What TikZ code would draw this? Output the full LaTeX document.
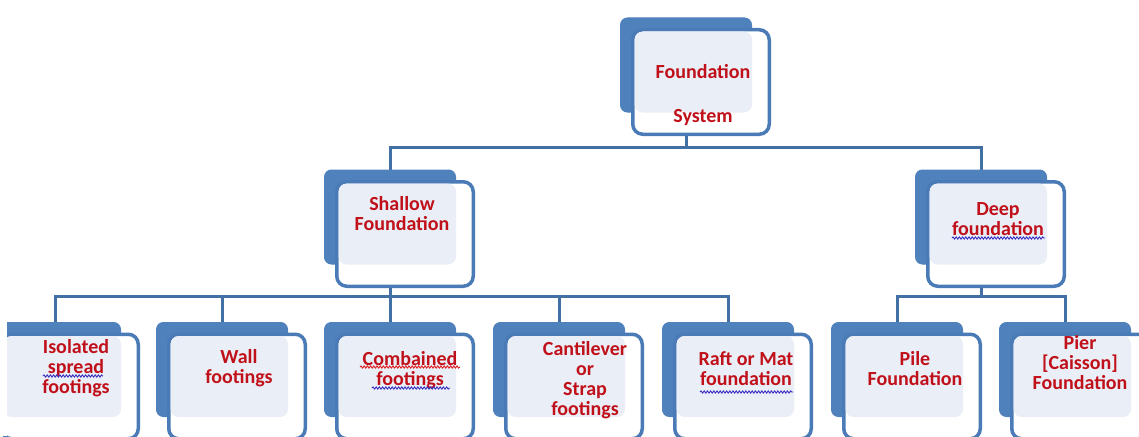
\documentclass[tikz,border=0pt]{standalone}
\usepackage{fontspec}
\setmainfont{Carlito}
\usetikzlibrary{calc,backgrounds,decorations.pathmorphing}
\definecolor{boxblue}{HTML}{4F81BD}
\definecolor{edgeblue}{HTML}{4A7BB7}
\definecolor{lineblue}{HTML}{4270A5}
\definecolor{innerfill}{HTML}{EAEEF6}
\definecolor{txtred}{HTML}{C0101A}
\definecolor{wavyblue}{HTML}{3A2FC0}
\definecolor{wavyred}{HTML}{E02020}
\tikzset{
  backbox/.style={rectangle, fill=boxblue, draw=boxblue, line width=1pt, rounded corners=7pt,
    minimum width=131pt, minimum height=94pt, inner sep=0pt},
  frontbox/.style={rectangle, fill=white, draw=edgeblue, line width=3.5pt, rounded corners=10pt,
    minimum width=136.5pt, minimum height=104.5pt, inner sep=0pt},
  innerpart/.style={fill=innerfill, rounded corners=8pt},
  conn/.style={draw=lineblue, line width=3pt},
  lbl/.style={text=txtred, font=\fontsize{20}{20}\selectfont\bfseries, align=center, inner sep=0pt, anchor=north},
  wavy/.style={line width=0.9pt, decorate, decoration={snake, amplitude=1.1pt, segment length=3.2pt}}
}
\newcommand{\mkbox}[3]{%
  \node[backbox] (#1b) at (#2,#3) {};
  \node[frontbox] (#1f) at ($(#1b.center)+(15,17)$) {};
  \fill[innerpart] ($(#1f.north west)+(3.6,3.6)$) rectangle (#1b.south east);
}
\begin{document}
\begin{tikzpicture}[x=1pt,y=-1pt]
\useasboundingbox (0,0) rectangle (1139,436);
\clip (0,0) rectangle (1139,436);
% boxes
\mkbox{top}{686}{65}
\mkbox{sh}{390}{217}
\mkbox{dp}{981}{217}
\mkbox{iso}{55}{369.5}
\mkbox{wall}{222}{369.5}
\mkbox{comb}{390}{369.5}
\mkbox{cant}{559}{369.5}
\mkbox{raft}{728}{369.5}
\mkbox{pile}{897}{369.5}
\mkbox{pier}{1065}{369.5}
% white margin strip at the left edge, as in the reference
\fill[white] (0,300) rectangle (7,436);
% labels
\node[lbl] (topt) at (703,64) {Foundation\\[24pt]System};
\node[lbl] (sht) at (402,196) {Shallow\\Foundation};
\node[lbl] (dpt) at (998,202) {Deep\\foundation};
\node[lbl] (isot) at (76,339) {Isolated\\spread\\footings};
\node[lbl] (wallt) at (239,349) {Wall\\footings};
\node[lbl] (combt) at (410,351) {Combained\\footings};
\node[lbl] (cantt) at (585,341) {Cantilever\\or\\Strap\\footings};
\node[lbl] (raftt) at (746,351) {Raft or Mat\\foundation};
\node[lbl] (pilet) at (915,351) {Pile\\Foundation};
\node[lbl] (piert) at (1080,335) {Pier\\{[Caisson]}\\Foundation};
% spell-check underlines
\draw[wavy, wavyblue] (43,376) -- (103,376);
\draw[wavy, wavyred] (360,367) -- (460,367);
\draw[wavy, wavyblue] (372,388) -- (450,388);
\draw[wavy, wavyblue] (952,238) -- (1045,238);
\draw[wavy, wavyblue] (700,392) -- (793,392);
% connectors
\coordinate (bus1) at ($(topb.south)+(0,35)$);
\coordinate (bus2) at ($(shb.south)+(0,31.5)$);
\coordinate (bus3) at ($(dpb.south)+(0,32)$);
\begin{pgfonlayer}{background}
  \fill[white] (0,0) rectangle (1139,436);
  \draw[conn] (topb.south) -- (bus1);
  \draw[conn] (bus1) -| (shb.north);
  \draw[conn] (bus1) -| (dpb.north);
  \draw[conn] (shb.south) -- (bus2);
  \draw[conn] (bus2) -| (isob.north);
  \draw[conn] (bus2) -| (wallb.north);
  \draw[conn] (bus2) -| (combb.north);
  \draw[conn] (bus2) -| (cantb.north);
  \draw[conn] (bus2) -| (raftb.north);
  \draw[conn] (dpb.south) -- (bus3);
  \draw[conn] (bus3) -| (pileb.north);
  \draw[conn] (bus3) -| (pierb.north);
\end{pgfonlayer}
\end{tikzpicture}
\end{document}
